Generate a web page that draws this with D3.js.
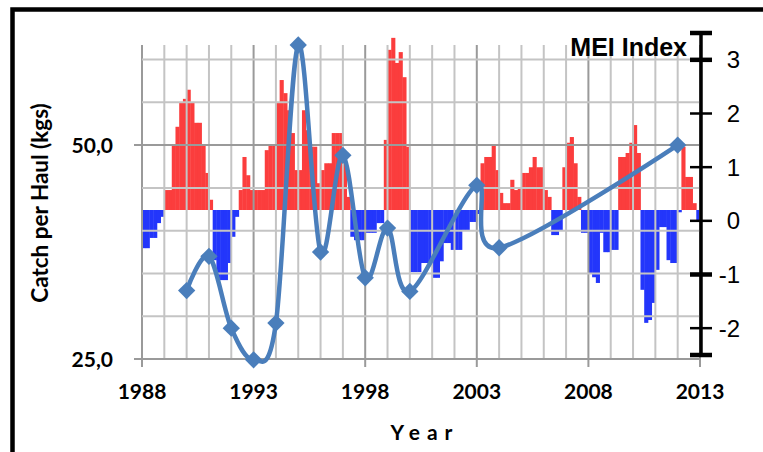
<!DOCTYPE html>
<html>
<head>
<meta charset="utf-8">
<script src="https://cdn.jsdelivr.net/npm/d3@7"></script>
<style>
  html, body { margin: 0; padding: 0; background: #fff; }
  svg { display: block; }
</style>
</head>
<body>
<div id="chart"></div>
<script>
// --- data ---
const catchYears = [1990, 1991, 1992, 1993, 1994, 1995, 1996, 1997, 1998, 1999, 2000, 2003, 2004, 2012];
const catchValues = [33.0, 37.0, 28.6, 24.9, 29.2, 61.7, 37.5, 48.8, 34.5, 40.3, 32.9, 45.3, 38.0, 50.0];

// MEI bars, one every two months starting Jan 1988
const meiStart = 1988;
const meiStep = 1 / 6;
const meiValues = [
  -0.67, -0.67, -0.49, -0.49, -0.23, -0.12, 0.35, 0.35, 1.14, 1.46,
  1.89, 1.95, 2.11, 1.89, 1.53, 1.53, 1.14, 0.65, 0.18, -0.88,
  -1.23, -1.23, -1.23, -0.93, -0.47, -0.12, 0.35, 0.93, 0.61, 0.35,
  0.35, 0.35, 0.35, 1.05, 1.14, 1.14, 1.88, 2.28, 2.05, 1.75,
  1.35, 0.70, 0.70, 1.75, 1.40, 1.11, 1.11, 0.47, 0.70, 0.82,
  0.82, 1.35, 1.35, 1.35, 0.82, 0.23, -0.47, -0.53, -0.53, -0.53,
  -0.40, -0.40, -0.40, -0.23, -0.23, 1.23, 2.81, 3.02, 2.58, 2.77,
  2.33, 1.11, -1.09, -1.09, -1.09, -0.93, -0.93, -0.93, -1.19, -1.19,
  -0.90, -0.58, -0.58, -0.70, -0.70, -0.70, -0.35, -0.35, -0.21, -0.21,
  -0.07, 0.82, 0.93, 0.93, 1.14, 0.70, 0.30, 0.12, 0.12, 0.53,
  0.35, 0.40, 0.65, 0.65, 0.75, 0.93, 0.75, 0.75, 0.35, 0.23,
  -0.44, -0.44, -0.35, 0.75, 1.18, 1.28, 0.82, 0.23, -0.40, -0.40,
  -1.11, -1.18, -1.28, -0.40, -0.74, -0.74, -0.70, -0.70, 0.93, 0.93,
  1.00, 1.18, 1.49, 1.00, -1.40, -1.98, -1.93, -1.63, -1.05, -0.30,
  -0.30, -0.88, -0.93, -0.93, -0.04, 1.11, 0.58, 0.58, 0.12, -0.18
];

const xTickYears = [1988, 1993, 1998, 2003, 2008, 2013];
const leftTicks = [25, 50];
const leftTickLabels = ["25,0", "50,0"];
const meiTicks = [-2, -1, 0, 1, 2, 3];
const meiTickLabels = ["-2", "-1", "0", "1", "2", "3"];

// --- layout ---
const width = 763, height = 452;
const plotL = 142, plotR = 700, plotT = 45, plotB = 359;
const boldFont = "Lato, 'Open Sans', sans-serif";
const arialFont = "'Liberation Sans', Arial, sans-serif";

const svg = d3.select("#chart").append("svg").attr("width", width).attr("height", height);

const x = d3.scaleLinear().domain([1988, 2013]).range([plotL, plotR]);
const y = d3.scaleLinear().domain([25, 61.7]).range([plotB, plotT]);
const yMei = d3.scaleLinear().domain([-2.5, 3.5]).range([355, 33]);
// the MEI bars sit on their own baseline, a bit above the axis zero
const yBar = d3.scaleLinear().domain([-2.5, 3.5]).range([352.5, 10.5]);

// frame
svg.append("rect").attr("x", 12.5).attr("y", 9.5).attr("width", 800).attr("height", 500)
  .attr("fill", "none").attr("stroke", "#000").attr("stroke-width", 4.5);

// MEI bars
const barW = x(meiStart + meiStep) - x(meiStart);
svg.append("g").selectAll("rect").data(meiValues).join("rect")
  .attr("x", (d, i) => x(meiStart + i * meiStep))
  .attr("width", barW + 0.4)
  .attr("y", d => d > 0 ? yBar(d) : yBar(0))
  .attr("height", d => Math.abs(yBar(d) - yBar(0)))
  .attr("fill", d => d > 0 ? "#fb3d3d" : "#2336fb");

// grid
const grid = svg.append("g");
const yearLines = d3.range(1988, 2014);
grid.selectAll(".vg").data(yearLines).join("line")
  .attr("x1", d => x(d)).attr("x2", d => x(d))
  .attr("y1", plotT)
  .attr("y2", d => (d - 1988) % 5 === 0 ? plotB + 8 : plotB)
  .attr("stroke", d => (d - 1988) % 5 === 0 ? "#9a9a9a" : "#c4c4c4")
  .attr("stroke-width", 2);
grid.selectAll(".hg").data(d3.range(25, 61, 5)).join("line")
  .attr("x1", d => leftTicks.includes(d) ? plotL - 8 : plotL).attr("x2", plotR)
  .attr("y1", d => y(d)).attr("y2", d => y(d))
  .attr("stroke", d => leftTicks.includes(d) ? "#9a9a9a" : "#c4c4c4")
  .attr("stroke-width", 2);

// left tick labels
svg.append("g").selectAll("text").data(leftTicks).join("text")
  .attr("x", 113).attr("y", d => y(d) + 7.5)
  .attr("text-anchor", "end")
  .style("font-family", boldFont).style("font-weight", "bold").style("font-size", "21px")
  .text((d, i) => leftTickLabels[i]);

// bottom tick labels
svg.append("g").selectAll("text").data(xTickYears).join("text")
  .attr("x", d => x(d)).attr("y", 399)
  .attr("text-anchor", "middle")
  .style("font-family", boldFont).style("font-weight", "bold").style("font-size", "21px")
  .text(d => d);

// axis titles
svg.append("text")
  .attr("transform", "translate(48,203) rotate(-90)")
  .attr("text-anchor", "middle")
  .style("font-family", boldFont).style("font-weight", "bold").style("font-size", "22.5px")
  .text("Catch per Haul (kgs)");

svg.append("text")
  .attr("x", 425).attr("y", 440)
  .attr("text-anchor", "middle")
  .style("font-family", boldFont).style("font-weight", "bold").style("font-size", "21px")
  .style("letter-spacing", "7px")
  .text("Year");

// right MEI axis
const ax = svg.append("g");
ax.append("line").attr("x1", 701).attr("x2", 701)
  .attr("y1", yMei(3.5)).attr("y2", yMei(-2.5))
  .attr("stroke", "#000").attr("stroke-width", 3.5);
const capTicks = [-2.5, -1, 3, 3.5];
ax.selectAll(".t").data(meiTicks.concat([-2.5, 3.5])).join("line")
  .attr("x1", 690).attr("x2", 712)
  .attr("y1", d => yMei(d)).attr("y2", d => yMei(d))
  .attr("stroke", "#000")
  .attr("stroke-width", d => capTicks.includes(d) ? 4.5 : 2.5);
ax.selectAll("text").data(meiTicks).join("text")
  .attr("x", 740).attr("y", d => yMei(d) + 8.5)
  .attr("text-anchor", "end")
  .style("font-family", arialFont).style("font-size", "24px")
  .text((d, i) => meiTickLabels[i]);
svg.append("text")
  .attr("x", 687).attr("y", 56)
  .attr("text-anchor", "end")
  .style("font-family", arialFont).style("font-weight", "bold").style("font-size", "25px")
  .text("MEI Index");

// catch per haul line
const pts = catchYears.map((yr, i) => [x(yr), y(catchValues[i])]);
svg.append("path")
  .attr("d", d3.line().curve(d3.curveCardinal.tension(0))(pts))
  .attr("fill", "none").attr("stroke", "#4a7ebb").attr("stroke-width", 4.5);
svg.append("g").selectAll("path").data(pts).join("path")
  .attr("transform", d => `translate(${d[0]},${d[1]}) rotate(45)`)
  .attr("d", d3.symbol(d3.symbolSquare, 150))
  .attr("fill", "#4a7ebb");
</script>
</body>
</html>
